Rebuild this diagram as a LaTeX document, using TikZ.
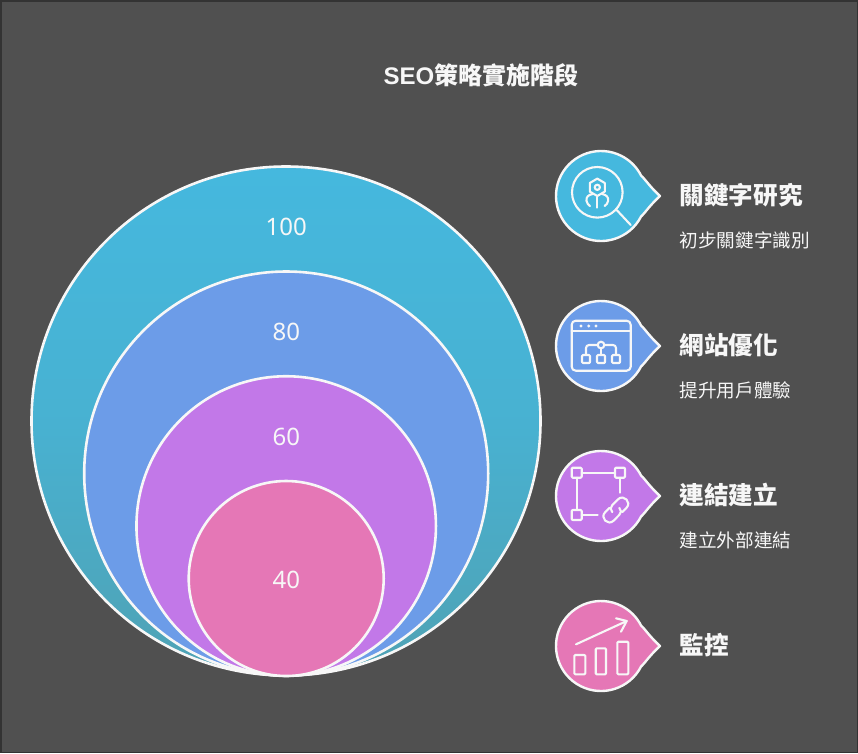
\documentclass[tikz,border=0pt]{standalone}
\usepackage{fontspec}
\setmainfont{Noto Sans CJK TC}
\newfontfamily\latinfont{Noto Sans}
\newfontfamily\latinbold{Liberation Sans Bold}
\definecolor{bgc}{HTML}{505050}
\definecolor{edgec}{HTML}{333333}
\definecolor{cyanc}{HTML}{45B8DE}
\definecolor{cyand}{HTML}{4FA2B4}
\definecolor{bluec}{HTML}{6C9CE8}
\definecolor{purplec}{HTML}{C278E8}
\definecolor{pinkc}{HTML}{E577B6}
\definecolor{inkc}{HTML}{F7F7F7}
\tikzset{
  layer/.style={circle,draw=inkc,line width=2.6pt,inner sep=0pt,outer sep=0pt},
  numlabel/.style={text=inkc,font=\fontsize{24}{24}\selectfont\latinfont,inner sep=0pt},
  headlabel/.style={text=inkc,anchor=west,inner sep=0pt,font=\fontsize{24.6}{24.6}\selectfont\bfseries},
  sublabel/.style={text=inkc,anchor=west,inner sep=0pt,font=\fontsize{18.6}{18.6}\selectfont},
  titlelabel/.style={text=inkc,inner sep=0pt,font=\fontsize{24}{24}\selectfont\bfseries},
  tagshape/.style={draw=inkc,line width=2.4pt,line join=round},
  icon/.style={draw=inkc,line width=2.1pt,line cap=round,line join=round},
}
\newcommand{\tagbubble}[2]{%
  \path[tagshape,fill=#2] (601,#1) ++(27:45) arc[start angle=27,end angle=333,radius=45]
    .. controls (645,#1-17) and (650,#1-9) .. (660,#1) .. controls (650,#1+9) and (645,#1+17) .. cycle;}
\begin{document}
\begin{tikzpicture}[x=1pt,y=-1pt]
\useasboundingbox (0,0) rectangle (858,753);
\fill[bgc] (0,0) rectangle (858,753);
\draw[edgec,line width=1.5pt] (0.75,0.75) rectangle (857.25,752.25);

\node[titlelabel] (title) at (481,75.5) {{\latinbold SEO}策略實施階段};

\node[layer,minimum size=509pt,top color=cyanc,bottom color=cyand,middle color=cyanc!70!cyand] (c1) at (286,421) {};
\node[layer,minimum size=404pt,fill=bluec] (c2) at (286.2,473.5) {};
\node[layer,minimum size=299.5pt,fill=purplec] (c3) at (286.2,526) {};
\node[layer,minimum size=195pt,fill=pinkc] (c4) at (286.2,578.5) {};
\node[numlabel] (n1) at (286.3,226.5) {100};
\node[numlabel] (n2) at (286.3,331.5) {80};
\node[numlabel] (n3) at (286.3,436.5) {60};
\node[numlabel] (n4) at (286.3,579.5) {40};

\tagbubble{196}{cyanc}
\tagbubble{346}{bluec}
\tagbubble{496}{purplec}
\tagbubble{646}{pinkc}

\node[headlabel] (h1) at (679.5,195.5) {關鍵字研究};
\node[sublabel] (s1) at (679.5,240) {初步關鍵字識別};
\node[headlabel] (h2) at (679.5,345.5) {網站優化};
\node[sublabel] (s2) at (679.5,390) {提升用戶體驗};
\node[headlabel] (h3) at (679.5,495.5) {連結建立};
\node[sublabel] (s3) at (679.5,540) {建立外部連結};
\node[headlabel] (h4) at (679.5,645.5) {監控};

% icon 1: magnifier
\draw[icon] (597.3,192.3) circle[radius=25.3];
\draw[icon] (616.7,210) -- (630.7,225);
\draw[icon] (597.3,178.6) -- (604.8,183) -- (604.8,191.6) -- (597.3,196) -- (589.8,191.6) -- (589.8,183) -- cycle;
\draw[icon] (597.3,187.3) circle[radius=2.6];
\draw[icon] (597.3,197) -- (597.3,207.7);
\draw[icon] (592.5,194) .. controls (588,195) and (586,197) .. (586.5,201) .. controls (587,203.5) and (588.5,205) .. (590,206);
\draw[icon] (602.1,194) .. controls (606.6,195) and (608.6,197) .. (608.1,201) .. controls (607.6,203.5) and (606.1,205) .. (604.6,206);

% icon 2: site map
\draw[icon,rounded corners=4pt] (571.7,320.7) rectangle (630.7,370.7);
\draw[icon] (571.7,330.7) -- (630.7,330.7);
\fill[inkc] (581,326) circle[radius=1.7] (588.7,326) circle[radius=1.7] (596,326) circle[radius=1.7];
\draw[icon] (601,345) circle[radius=3.3];
\draw[icon,rounded corners=3pt] (597.7,345) -- (586,345) -- (586,355);
\draw[icon,rounded corners=3pt] (604.3,345) -- (616,345) -- (616,355);
\draw[icon] (601,348.3) -- (601,355);
\draw[icon,rounded corners=1pt] (582,355) rectangle (590,363);
\draw[icon,rounded corners=1pt] (597,355) rectangle (605,363);
\draw[icon,rounded corners=1pt] (612,355) rectangle (620,363);

% icon 3: frame and chain
\draw[icon,rounded corners=1pt] (571.7,467.7) rectangle (581.7,477.7);
\draw[icon,rounded corners=1pt] (615,467.7) rectangle (625,477.7);
\draw[icon,rounded corners=1pt] (571.7,510) rectangle (581.7,520);
\draw[icon] (581.7,472.7) -- (615,472.7);
\draw[icon] (576.7,477.7) -- (576.7,510);
\draw[icon] (620,477.7) -- (620,492.7);
\draw[icon] (581.7,515) -- (597.7,515);
\draw[icon] (609.4,507.9) -- (605.2,512.1) .. controls (599.5,517.8) and (608,526.3) .. (613.7,520.6) -- (619.3,514.9) .. controls (621.5,512.8) and (621.5,510) .. (619.3,507.9);
\draw[icon] (622.2,512.1) -- (626.4,507.9) .. controls (632.1,502.2) and (623.6,493.7) .. (617.9,499.4) -- (612.3,505.1) .. controls (610.1,507.2) and (610.1,510) .. (612.3,512.1);

% icon 4: chart
\draw[icon,rounded corners=1pt] (574.3,655) rectangle (585.3,674.3);
\draw[icon,rounded corners=1pt] (595.7,648.3) rectangle (606,674.3);
\draw[icon,rounded corners=1pt] (617.3,641.7) rectangle (628.3,674.3);
\draw[icon] (576,644.3) -- (626.7,621);
\draw[icon] (616,618.3) -- (626.7,621) -- (621,631.7);
\end{tikzpicture}
\end{document}
